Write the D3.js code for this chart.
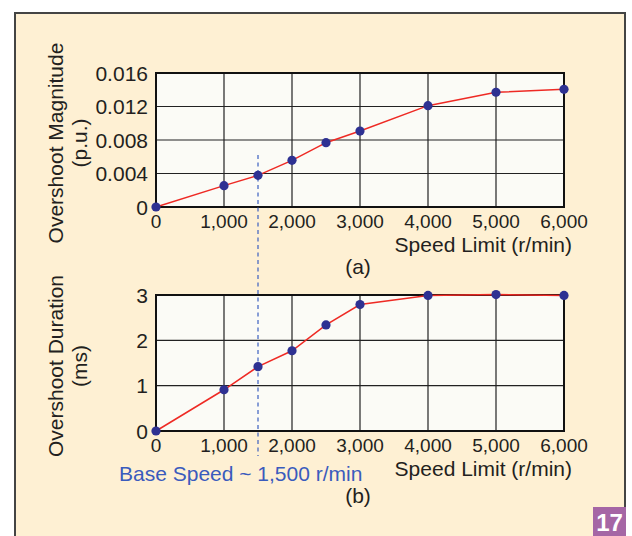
<!DOCTYPE html>
<html>
<head>
<meta charset="utf-8">
<script src="https://cdn.jsdelivr.net/npm/d3@7"></script>
<style>
  body { margin: 0; background: #fff; }
  svg text { font-family: "Liberation Sans", Arial, sans-serif; fill: #231f20; }
</style>
</head>
<body>
<div id="chart"></div>
<script>
const width = 632;
const height = 536;

// Data
const speeds = [0, 1000, 1500, 2000, 2500, 3000, 4000, 5000, 6000];
const magnitude = [0, 0.00255, 0.00378, 0.00557, 0.00768, 0.00907, 0.0121, 0.0137, 0.01405];
const duration = [0, 0.91, 1.42, 1.77, 2.34, 2.79, 2.99, 3.01, 2.99];
const xTicks = [0, 1000, 2000, 3000, 4000, 5000, 6000];
const magTicks = [0, 0.004, 0.008, 0.012, 0.016];
const durTicks = [0, 1, 2, 3];
const baseSpeed = 1500;

const svg = d3.select("#chart")
  .append("svg")
  .attr("width", width)
  .attr("height", height);

// Outer panel
svg.append("rect")
  .attr("x", 15).attr("y", 13)
  .attr("width", 610).attr("height", 530)
  .attr("fill", "#fef0d3")
  .attr("stroke", "#444")
  .attr("stroke-width", 2);

const x = d3.scaleLinear().domain([0, 6000]).range([156, 564]);
const yMag = d3.scaleLinear().domain([0, 0.016]).range([207, 73]);
const yDur = d3.scaleLinear().domain([0, 3]).range([431, 295]);

const fmtX = d3.format(",");

const backLayer = svg.append("g");
const markerLayer = svg.append("g");
const dataLayer = svg.append("g");

function drawPanel(y, values, yTicks, yFmt, title1, title2, cy) {
  const g = backLayer.append("g");
  const [y0, y1] = y.range();

  g.append("rect")
    .attr("x", x(0)).attr("y", y1)
    .attr("width", x(6000) - x(0)).attr("height", y0 - y1)
    .attr("fill", "#fbfbf6");

  // grid
  g.selectAll(".vg").data(xTicks).enter().append("line")
    .attr("x1", d => x(d)).attr("x2", d => x(d))
    .attr("y1", y0).attr("y2", y1)
    .attr("stroke", "#222").attr("stroke-width", 1.2);
  g.selectAll(".hg").data(yTicks).enter().append("line")
    .attr("x1", x(0)).attr("x2", x(6000))
    .attr("y1", d => y(d)).attr("y2", d => y(d))
    .attr("stroke", "#222").attr("stroke-width", 1.2);

  g.append("rect")
    .attr("x", x(0)).attr("y", y1)
    .attr("width", x(6000) - x(0)).attr("height", y0 - y1)
    .attr("fill", "none")
    .attr("stroke", "#111").attr("stroke-width", 2);

  // tick labels
  g.selectAll(".xt").data(xTicks).enter().append("text")
    .attr("x", d => x(d)).attr("y", y0 + 21)
    .attr("text-anchor", "middle")
    .attr("font-size", 19)
    .text(d => fmtX(d));
  g.selectAll(".yt").data(yTicks).enter().append("text")
    .attr("x", 148).attr("y", d => y(d))
    .attr("dy", "0.36em")
    .attr("text-anchor", "end")
    .attr("font-size", 21)
    .text(yFmt);

  // y title, two lines
  g.append("text")
    .attr("transform", `translate(63,${cy}) rotate(-90)`)
    .attr("text-anchor", "middle")
    .attr("font-size", 21)
    .text(title1);
  g.append("text")
    .attr("transform", `translate(87,${cy}) rotate(-90)`)
    .attr("text-anchor", "middle")
    .attr("font-size", 21)
    .text(title2);

  // x title
  g.append("text")
    .attr("x", 572).attr("y", y0 + 45)
    .attr("text-anchor", "end")
    .attr("font-size", 21)
    .text("Speed Limit (r/min)");

  const line = d3.line()
    .x((d, i) => x(speeds[i]))
    .y(d => y(d));

  dataLayer.append("path")
    .datum(values)
    .attr("d", line)
    .attr("fill", "none")
    .attr("stroke", "#ee2a24")
    .attr("stroke-width", 1.5);

  dataLayer.append("g").selectAll("circle").data(values).enter().append("circle")
    .attr("cx", (d, i) => x(speeds[i]))
    .attr("cy", d => y(d))
    .attr("r", 4.6)
    .attr("fill", "#2e3192");
}

drawPanel(yMag, magnitude, magTicks, d => d === 0 ? "0" : d3.format(".3f")(d),
  "Overshoot Magnitude", "(p.u.)", 143);
drawPanel(yDur, duration, durTicks, d => d,
  "Overshoot Duration", "(ms)", 366);

// base speed marker, above the grid but under the data
markerLayer.append("line")
  .attr("x1", x(baseSpeed)).attr("x2", x(baseSpeed))
  .attr("y1", 155).attr("y2", 456)
  .attr("stroke", "#3b5fc0")
  .attr("stroke-width", 1.2)
  .attr("stroke-dasharray", "4,3.5");

svg.append("text")
  .attr("x", 358).attr("y", 274)
  .attr("text-anchor", "middle")
  .attr("font-size", 21)
  .text("(a)");
svg.append("text")
  .attr("x", 358).attr("y", 503)
  .attr("text-anchor", "middle")
  .attr("font-size", 21)
  .text("(b)");

svg.append("text")
  .attr("x", 119).attr("y", 481)
  .attr("font-size", 21)
  .style("fill", "#3a5bbd")
  .text("Base Speed ~ 1,500 r/min");

// figure badge
svg.append("rect")
  .attr("x", 593).attr("y", 507)
  .attr("width", 33).attr("height", 29)
  .attr("fill", "#a566a5");
svg.append("text")
  .attr("x", 609.5).attr("y", 531)
  .attr("text-anchor", "middle")
  .attr("font-size", 24).attr("font-weight", "bold")
  .style("fill", "#fff")
  .text("17");
</script>
</body>
</html>
